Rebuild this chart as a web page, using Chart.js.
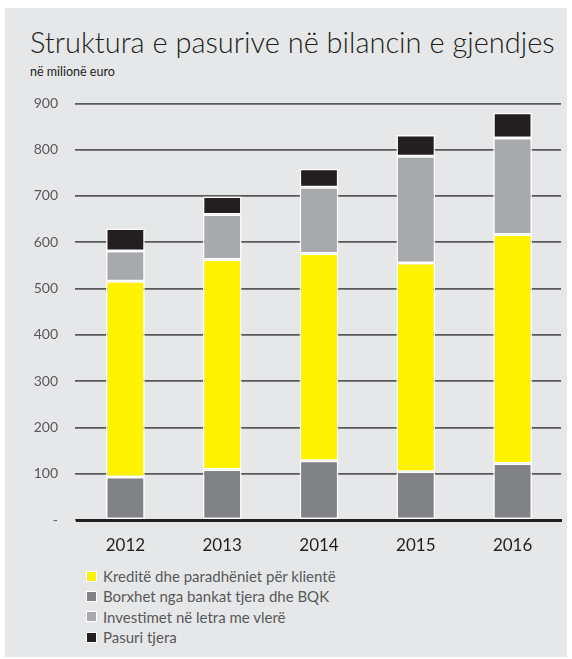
<!DOCTYPE html>
<html><head><meta charset="utf-8">
<script src="https://cdn.jsdelivr.net/npm/chart.js@4"></script>
<style>
html,body{margin:0;padding:0;background:#fff;width:572px;height:659px;overflow:hidden}
#panel{position:absolute;left:5px;top:8px;width:562px;height:649px;background:#e6e7e8}
#title{position:absolute;left:30px;top:24px;font:300 29px Lato;color:#231f20;white-space:nowrap}
#sub{position:absolute;left:30px;top:64px;font:12.5px Lato;color:#231f20}
#wrap{position:absolute;left:0;top:78px;width:572px;height:487px}
#legend{position:absolute;left:86px;top:566px;font:15px Lato;color:#58595b}
.item{height:20.3px;display:flex;align-items:center}
.sw{width:9px;height:9px;border:1px solid #fff;margin-right:6px;box-sizing:content-box}
</style>
</head><body>
<div id="panel"></div>
<div id="title">Struktura e pasurive në bilancin e gjendjes</div>
<div id="sub">në milionë euro</div>
<div id="wrap"><canvas id="c" width="572" height="487"></canvas></div>
<div id="legend"></div>
<script>
const years = ['2012','2013','2014','2015','2016'];
const borxhet = [93,109,128,104,122];
const kredite = [423,454,448,451,495];
const investimet = [65,97,143,231,208];
const pasuri = [49,39,40,46,55];
const yTicks = [0,100,200,300,400,500,600,700,800,900];

const names = {
  kredite:'Kreditë dhe paradhëniet për klientë',
  borxhet:'Borxhet nga bankat tjera dhe BQK',
  investimet:'Investimet në letra me vlerë',
  pasuri:'Pasuri tjera'
};
const colors = {kredite:'#fff200', borxhet:'#808285', investimet:'#a7a9ac', pasuri:'#231f20'};

function ds(key, data){
  return {label:names[key], data:data, backgroundColor:colors[key], borderColor:'#ffffff',
    borderWidth:1.5, borderSkipped:false, barPercentage:0.4, categoryPercentage:1};
}

const chart = new Chart(document.getElementById('c'), {
  type:'bar',
  data:{labels:years, datasets:[ds('borxhet',borxhet), ds('kredite',kredite), ds('investimet',investimet), ds('pasuri',pasuri)]},
  options:{
    responsive:false, animation:false, devicePixelRatio:1,
    layout:{padding:{top:18,right:11,bottom:0,left:0}},
    plugins:{legend:{display:false}, tooltip:{enabled:false}},
    scales:{
      x:{stacked:true,
        grid:{display:false, drawTicks:false},
        border:{display:true, color:'#231f20', width:3, z:1},
        ticks:{font:{family:'Lato', size:17}, color:'#231f20', padding:15},
        afterFit:(s)=>{s.height=45;}
      },
      y:{stacked:true, min:0, max:900,
        afterBuildTicks:(s)=>{s.ticks = yTicks.map(v=>({value:v}));},
        grid:{color:'#58595b', lineWidth:1.8, drawTicks:true, tickLength:2},
        border:{display:false},
        ticks:{font:{family:'Lato', size:14}, color:'#58595b', padding:17,
          callback:(v)=> v===0 ? '-' : String(v)},
        afterFit:(s)=>{s.width=77;}
      }
    }
  }
});

const order = ['kredite','borxhet','investimet','pasuri'];
const leg = document.getElementById('legend');
order.forEach(k=>{
  const it=document.createElement('div'); it.className='item';
  const sw=document.createElement('span'); sw.className='sw'; sw.style.background=colors[k];
  const tx=document.createElement('span'); tx.textContent=names[k];
  it.appendChild(sw); it.appendChild(tx); leg.appendChild(it);
});
</script>
</body></html>
